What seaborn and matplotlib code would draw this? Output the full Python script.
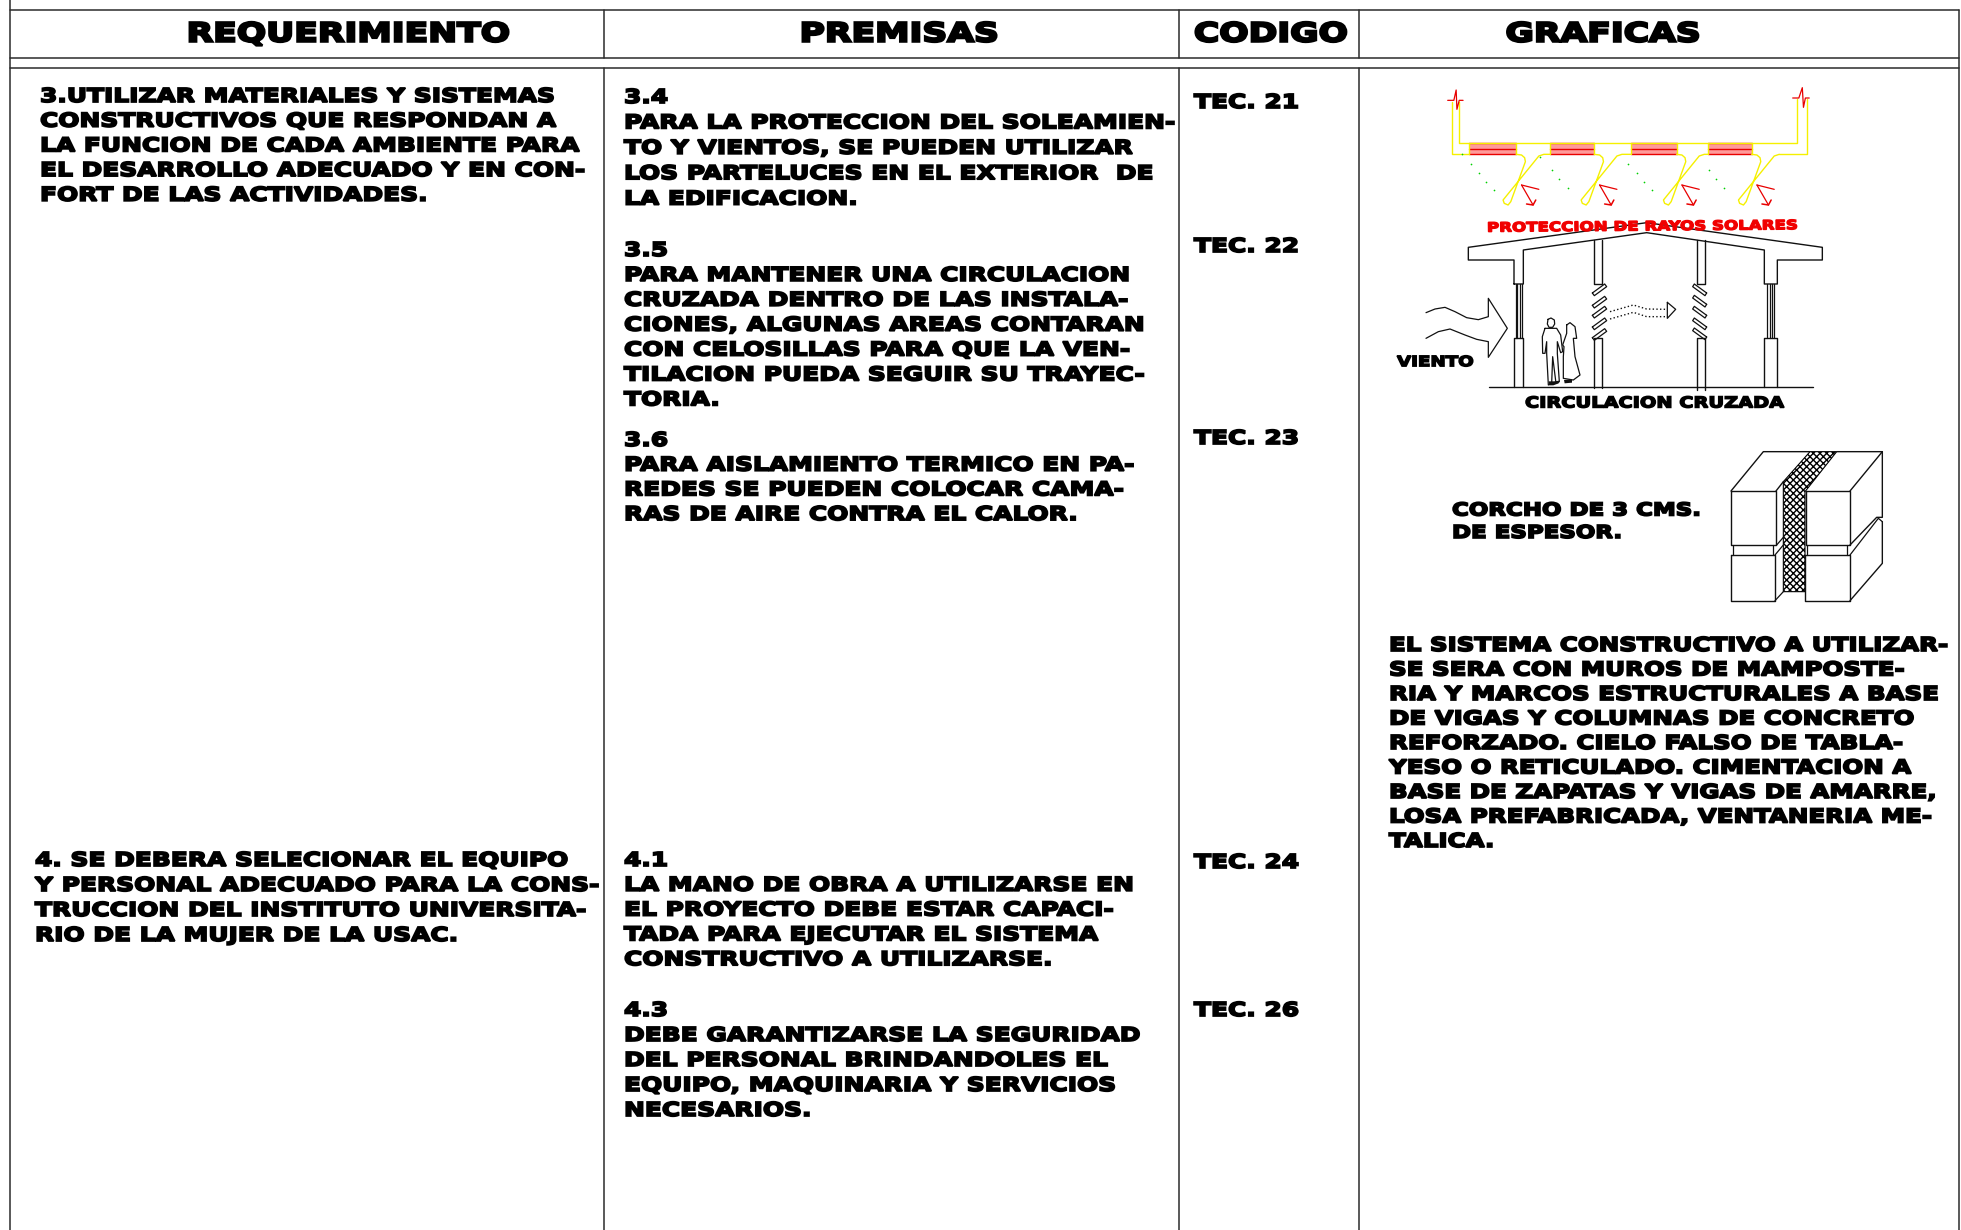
# Requirements table sheet with the small construction sketches on the right
import seaborn as sns
import matplotlib.pyplot as plt
import matplotlib.patheffects as pe
from matplotlib.transforms import Affine2D

HEADERS = ['REQUERIMIENTO', 'PREMISAS', 'CODIGO', 'GRAFICAS']
CODES = ['TEC. 21', 'TEC. 22', 'TEC. 23', 'TEC. 24', 'TEC. 26']

REQ_3 = ['3.UTILIZAR MATERIALES Y SISTEMAS',
         'CONSTRUCTIVOS QUE RESPONDAN A',
         'LA FUNCION DE CADA AMBIENTE PARA',
         'EL DESARROLLO ADECUADO Y EN CON-',
         'FORT DE LAS ACTIVIDADES.']
REQ_4 = ['4. SE DEBERA SELECIONAR EL EQUIPO',
         'Y PERSONAL ADECUADO PARA LA CONS-',
         'TRUCCION DEL INSTITUTO UNIVERSITA-',
         'RIO DE LA MUJER DE LA USAC.']
PREM_34 = ['3.4',
           'PARA LA PROTECCION DEL SOLEAMIEN-',
           'TO Y VIENTOS, SE PUEDEN UTILIZAR',
           'LOS PARTELUCES EN EL EXTERIOR  DE',
           'LA EDIFICACION.']
PREM_35 = ['3.5',
           'PARA MANTENER UNA CIRCULACION',
           'CRUZADA DENTRO DE LAS INSTALA-',
           'CIONES, ALGUNAS AREAS CONTARAN',
           'CON CELOSILLAS PARA QUE LA VEN-',
           'TILACION PUEDA SEGUIR SU TRAYEC-',
           'TORIA.']
PREM_36 = ['3.6',
           'PARA AISLAMIENTO TERMICO EN PA-',
           'REDES SE PUEDEN COLOCAR CAMA-',
           'RAS DE AIRE CONTRA EL CALOR.']
PREM_41 = ['4.1',
           'LA MANO DE OBRA A UTILIZARSE EN',
           'EL PROYECTO DEBE ESTAR CAPACI-',
           'TADA PARA EJECUTAR EL SISTEMA',
           'CONSTRUCTIVO A UTILIZARSE.']
PREM_43 = ['4.3',
           'DEBE GARANTIZARSE LA SEGURIDAD',
           'DEL PERSONAL BRINDANDOLES EL',
           'EQUIPO, MAQUINARIA Y SERVICIOS',
           'NECESARIOS.']
SISTEMA = ['EL SISTEMA CONSTRUCTIVO A UTILIZAR-',
           'SE SERA CON MUROS DE MAMPOSTE-',
           'RIA Y MARCOS ESTRUCTURALES A BASE',
           'DE VIGAS Y COLUMNAS DE CONCRETO',
           'REFORZADO. CIELO FALSO DE TABLA-',
           'YESO O RETICULADO. CIMENTACION A',
           'BASE DE ZAPATAS Y VIGAS DE AMARRE,',
           'LOSA PREFABRICADA, VENTANERIA ME-',
           'TALICA.']
CORCHO = ['CORCHO DE 3 CMS.', 'DE ESPESOR.']

sns.set_theme(style='white')
plt.rcParams['font.family'] = ['DejaVu Sans']

fig = plt.figure(figsize=(19.61, 12.30), dpi=100)
ax = fig.add_axes([0, 0, 1, 1])


class WideText(pe.AbstractPathEffect):
    # the sheet uses an extended black face, so widen the glyphs around x0 and fatten them
    def __init__(self, sx, x0, lw, color):
        super().__init__()
        self.sx, self.x0, self.lw, self.color = sx, x0, lw, color

    def draw_path(self, renderer, gc, tpath, affine, rgbFace=None):
        wide = affine + Affine2D().translate(-self.x0, 0).scale(self.sx, 1).translate(self.x0, 0)
        gc0 = renderer.new_gc()
        gc0.copy_properties(gc)
        gc0.set_linewidth(self.lw)
        gc0.set_foreground(self.color)
        gc0.set_joinstyle('miter')
        renderer.draw_path(gc0, tpath, wide, rgbFace)
        gc0.restore()


def stroke(xs, ys, color='black', lw=0.9, ls='-'):
    sns.lineplot(x=xs, y=ys, sort=False, estimator=None, color=color,
                 linewidth=lw, linestyle=ls, ax=ax, legend=False)


def label(s, x, y, size=13.8, color='black', ha='left', rot=0, sx=1.3, lw=1.3):
    # y is the middle of the capitals
    t = ax.text(x, y + size * 0.505, s, fontsize=size, fontweight='bold',
                color=color, ha=ha, va='baseline', rotation=rot,
                rotation_mode='anchor')
    t.set_path_effects([WideText(sx, x, lw, color)])


def block(lines, x, y, step, size=13.8, sx=1.3):
    for i, s in enumerate(lines):
        label(s, x, y + i * step, size, sx=sx)


# zoom crops were read in their own pixels, these put them back on the sheet
def pts1(p, dx=0, dy=0):
    return [1360 + (a + dx) / 2.6 for a, b in p], [60 + (b + dy) / 3 for a, b in p]


def pts2(p):
    return [1370 + a / 3 for a, b in p], [210 + b / 3 for a, b in p]


def pts3(p):
    return [1430 + a / 3 for a, b in p], [430 + b / 3 for a, b in p]


# ---- table rules
GRID = '#2b2b2b'
for y in [10, 58, 68]:
    stroke([10, 1959], [y, y], GRID, 1.1)
stroke([10, 10], [0, 1230], GRID, 1.1)
stroke([1959, 1959], [10, 1230], GRID, 1.1)
for x in [604, 1179, 1359]:
    stroke([x, x], [10, 58], GRID, 1.1)
    stroke([x, x], [68, 1230], GRID, 1.1)

# ---- texts
for s, x in zip(HEADERS, [348, 899, 1271, 1603]):
    label(s, x, 32, 19, ha='center', sx=1.31, lw=1.7)

block(REQ_3, 40, 95, 24.7)
block(REQ_4, 35, 859, 25)
block(PREM_34, 624, 96, 25.4)
block(PREM_35, 624, 249, 24.9)
block(PREM_36, 624, 439, 24.7)
block(PREM_41, 624, 859, 24.8)
block(PREM_43, 624, 1009, 25)
for s, y in zip(CODES, [101, 245, 437, 861, 1009]):
    label(s, 1194, y)
block(SISTEMA, 1389, 644, 24.5, sx=1.28)
block(CORCHO, 1452, 509, 22.5, 12.7)
label('VIENTO', 1397, 361, 10.2, sx=1.29, lw=1.1)
label('CIRCULACION CRUZADA', 1525, 402, 10.8, sx=1.29, lw=1.1)
label('PROTECCION DE RAYOS SOLARES', 1487, 227, 9.3, color='#f00000', rot=0.6, sx=1.29, lw=1.0)

# ---- awning sketch
YEL = '#f5f000'
RED = '#e80000'
for x0, x1 in [(284, 406), (495, 609), (705, 823), (906, 1018)]:
    ax.fill(*pts1([(x0, 250), (x1, 250), (x1, 283), (x0, 283)]), color='#ff9a9a', lw=0)
    for y in [250, 267, 283]:
        stroke(*pts1([(x0, y), (x1, y)]), RED, 1.0)
    for x in [x0, x1]:
        stroke(*pts1([(x, 250), (x, 283)]), YEL, 1.0)
stroke(*pts1([(240, 125), (240, 283), (284, 283)]), YEL, 1.0)
stroke(*pts1([(258, 125), (258, 250), (1135, 250), (1135, 118)]), YEL, 1.0)
stroke(*pts1([(1162, 118), (1162, 283), (1090, 283)]), YEL, 1.0)

FIN = [(0, 0), (14, 2), (22, 10), (24, 22), (-14, 142), (-21, 152), (-31, 147),
       (-34, 137), (59, 5), (72, 0)]
for dx, end in [(406, 89), (609, 96), (823, 83), (1018, 72)]:
    stroke(*pts1(FIN + [(end, 0)], dx, 283), YEL, 1.0)
    ox = dx + 14
    stroke(*pts1([(0, 375), (45, 388)], ox), RED, 0.9)
    stroke(*pts1([(0, 375), (30, 435)], ox), RED, 0.9)
    stroke(*pts1([(13, 432), (30, 435), (37, 420)], ox), RED, 1.1)

DOTS = [(265, 283), (288, 313), (309, 340), (328, 367), (349, 391), (468, 292),
        (498, 331), (518, 358), (540, 385), (698, 313), (719, 340), (738, 367),
        (758, 391), (908, 331), (926, 358), (947, 385)]
ax.scatter(*pts1(DOTS), s=1.5, color='#00d000', linewidths=0, zorder=3)

stroke(*pts1([(228, 121), (244, 121), (250, 90), (252, 148), (258, 121), (268, 121)]), RED, 0.9)
stroke(*pts1([(1125, 114), (1141, 114), (1150, 83), (1153, 142), (1158, 114), (1168, 114)]), RED, 0.9)

# ---- cross ventilation sketch
LINE = '#111111'
stroke(*pts2([(432, 222), (432, 150), (295, 150), (295, 112), (830, 38), (1357, 112),
              (1357, 150), (1222, 150), (1222, 222), (1183, 222), (1183, 120),
              (830, 68), (460, 120), (460, 222), (432, 222)]), LINE, 1.0)
stroke(*pts2([(358, 530), (1328, 530)]), LINE, 1.0)
for a, b in [(432, 460), (1183, 1222)]:
    stroke(*pts2([(a, 530), (a, 385), (b, 385), (b, 530)]), LINE, 1.0)
for x in [437, 441, 449, 455, 1192, 1200, 1206, 1212]:
    stroke(*pts2([(x, 222), (x, 385)]), LINE, 0.9)
for a, b, low in [(673, 695, 535), (982, 1005, 540)]:
    stroke(*pts2([(a, 90), (a, 222), (b, 222), (b, 90)]), LINE, 1.0)
    stroke(*pts2([(a, low), (a, 385), (b, 385), (b, low)]), LINE, 1.0)
for y in [238, 275, 305, 340, 372]:
    stroke(*pts2([(667, y + 11), (704, y - 16), (710, y - 8), (673, y + 19), (667, y + 11)]), LINE, 0.9)
for y in [238, 272, 305, 340, 370]:
    stroke(*pts2([(1010, y + 11), (973, y - 16), (968, y - 8), (1005, y + 19), (1010, y + 11)]), LINE, 0.9)

stroke(*pts2([(168, 308), (195, 297), (225, 292), (255, 305), (290, 323), (325, 329),
              (355, 320), (355, 265), (412, 355), (355, 442), (355, 395), (320, 388),
              (285, 375), (240, 357), (205, 365), (168, 385)]), LINE, 0.9)
stroke(*pts2([(720, 305), (790, 285), (830, 297), (890, 298)]), LINE, 1.0, ':')
stroke(*pts2([(720, 327), (790, 307), (830, 320), (890, 320)]), LINE, 1.0, ':')
stroke(*pts2([(892, 277), (917, 298), (892, 325), (892, 277)]), LINE, 0.9)

# people
stroke(*pts2([(534, 328), (543, 324), (553, 330), (554, 342), (548, 352), (537, 352),
              (532, 342), (534, 328)]), LINE, 0.9)
stroke(*pts2([(525, 355), (560, 355), (572, 375), (578, 425), (572, 428), (562, 395),
              (562, 430), (568, 515), (558, 520), (548, 440), (545, 520), (535, 525),
              (530, 430), (530, 395), (525, 430), (518, 430), (517, 380), (525, 355)]), LINE, 0.9)
stroke(*pts2([(590, 345), (600, 338), (615, 350), (620, 385), (610, 385), (615, 440),
              (630, 495), (610, 510), (580, 505), (580, 440), (582, 410), (578, 405),
              (590, 370), (590, 345)]), LINE, 0.9)
ax.fill(*pts2([(536, 514), (552, 514), (568, 512), (566, 520), (550, 526), (538, 526)]), color=LINE, lw=0)
ax.fill(*pts2([(582, 510), (606, 508), (606, 518), (584, 520)]), color=LINE, lw=0)

# ---- cork wall sketch
ax.fill(*pts3([(1140, 65), (1220, 65), (1125, 185), (1125, 485), (1060, 485), (1060, 155)]),
        facecolor='white', edgecolor='black', hatch='xxxxx', lw=0.8)
for a, b, c, d in [(903, 1038, 183, 345), (903, 1035, 375, 512),
                   (1127, 1260, 183, 345), (1125, 1260, 375, 512)]:
    stroke(*pts3([(a, c), (b, c), (b, d), (a, d), (a, c)]), LINE, 1.0)
stroke(*pts3([(903, 183), (1000, 65), (1140, 65)]), LINE, 1.0)
stroke(*pts3([(1220, 65), (1357, 65), (1260, 183)]), LINE, 1.0)
stroke(*pts3([(1038, 183), (1060, 155)]), LINE, 1.0)
stroke(*pts3([(1357, 65), (1357, 262), (1340, 262), (1260, 345)]), LINE, 1.0)
stroke(*pts3([(1357, 275), (1357, 400), (1260, 512)]), LINE, 1.0)
stroke(*pts3([(1357, 275), (1345, 265), (1260, 375)]), LINE, 0.9)
stroke(*pts3([(1250, 345), (1250, 375)]), LINE, 0.9)
stroke(*pts3([(1130, 345), (1130, 375)]), LINE, 0.9)
stroke(*pts3([(910, 345), (910, 375)]), LINE, 0.9)
stroke(*pts3([(1030, 345), (1030, 375)]), LINE, 0.9)
stroke(*pts3([(1035, 375), (1060, 345)]), LINE, 0.9)
stroke(*pts3([(1040, 345), (1060, 322)]), LINE, 0.9)
stroke(*pts3([(1035, 512), (1060, 485)]), LINE, 0.9)

ax.set_xlim(0, 1961)
ax.set_ylim(1230, 0)
ax.axis('off')
fig.savefig('out.png', dpi=100)
